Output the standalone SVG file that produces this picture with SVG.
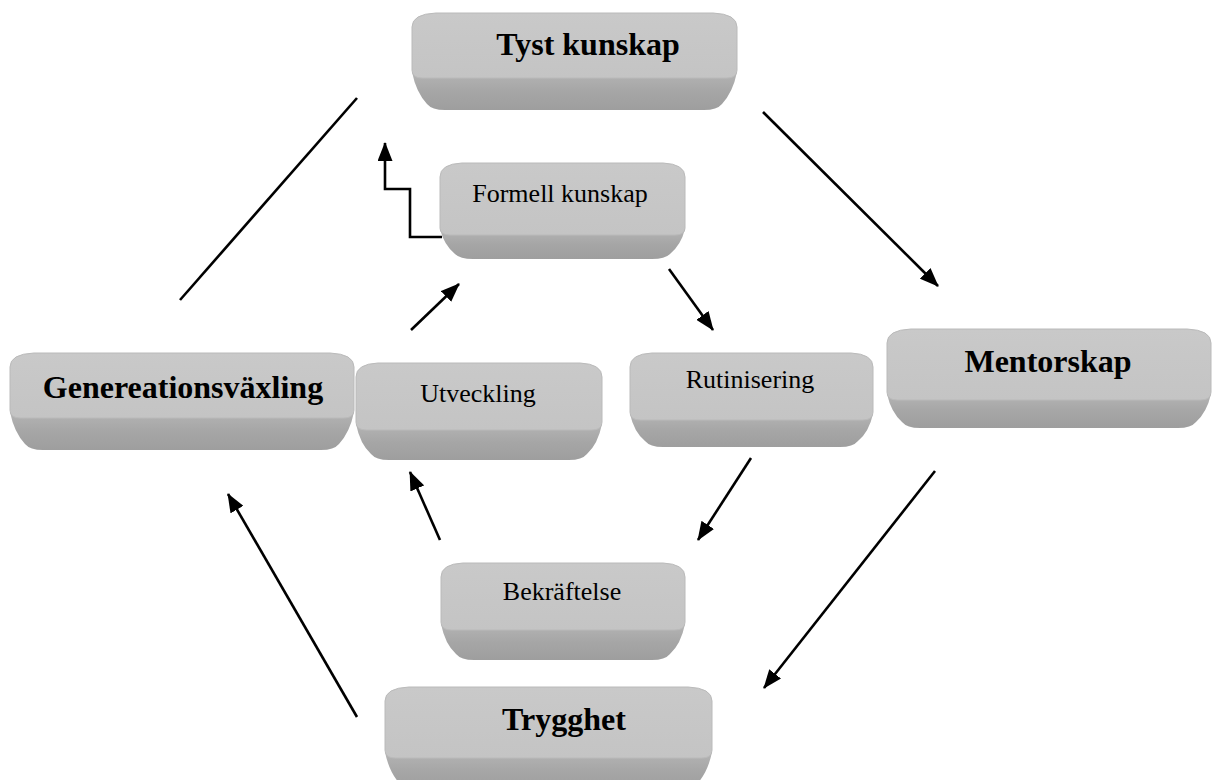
<svg xmlns="http://www.w3.org/2000/svg" width="1212" height="780" viewBox="0 0 1212 780">
<defs>
<linearGradient id="bev" x1="0" y1="0" x2="0" y2="1">
<stop offset="0" stop-color="#b4b4b4"/>
<stop offset="0.5" stop-color="#a6a6a6"/>
<stop offset="1" stop-color="#9e9e9e"/>
</linearGradient>
<linearGradient id="face" x1="0" y1="0" x2="0" y2="1">
<stop offset="0" stop-color="#c9c9c9"/>
<stop offset="1" stop-color="#c4c4c4"/>
</linearGradient>
<marker id="ah" markerUnits="userSpaceOnUse" markerWidth="19" markerHeight="15" refX="18" refY="7.5" orient="auto">
<path d="M0,0 L19,7.5 L0,15 Z" fill="#000"/>
</marker>
</defs>
<style>
.bevel{fill:url(#bev);}
.face{fill:url(#face);stroke:#bababa;stroke-width:1;}
.big{font-family:"Liberation Serif","Times New Roman",serif;font-weight:bold;font-size:32px;fill:#000;text-anchor:middle;}
.small{font-family:"Liberation Serif","Times New Roman",serif;font-size:26px;fill:#000;text-anchor:middle;}
.conn{stroke:#000;stroke-width:2.6;fill:none;}
.arr{marker-end:url(#ah);}
</style>
<rect width="1212" height="780" fill="#fff"/>

<g id="tyst-kunskap">
<path class="bevel" d="M412,72 L737,72 Q733,92 722,104 Q717,110 704,110 L445,110 Q432,110 427,104 Q416,92 412,72 Z"/>
<path class="face" d="M412,70 L412,27 Q412,14 436,13 L713,13 Q737,14 737,27 L737,70 Q737,78 727,78 L422,78 Q412,78 412,70 Z"/>
<text class="big" x="588" y="55">Tyst kunskap</text>
</g>

<g id="formell-kunskap">
<path class="bevel" d="M440,229 L685,229 Q681,245 670,254 Q665,259 652,259 L473,259 Q460,259 455,254 Q444,245 440,229 Z"/>
<path class="face" d="M440,228 L440,177 Q440,164 462,163 L663,163 Q685,164 685,177 L685,228 Q685,235 675,235 L450,235 Q440,235 440,228 Z"/>
<text class="small" x="560" y="202">Formell kunskap</text>
</g>

<g id="generationsvaxling">
<path class="bevel" d="M10,412 L354,412 Q350,432 339,444 Q334,450 321,450 L43,450 Q30,450 25,444 Q14,432 10,412 Z"/>
<path class="face" d="M10,410 L10,367 Q10,354 34,353 L330,353 Q354,354 354,367 L354,410 Q354,418 344,418 L20,418 Q10,418 10,410 Z"/>
<text class="big" x="183" y="398">Genereationsväxling</text>
</g>

<g id="mentorskap">
<path class="bevel" d="M887,394 L1211,394 Q1207,412 1196,422 Q1191,428 1178,428 L920,428 Q907,428 902,422 Q891,412 887,394 Z"/>
<path class="face" d="M887,392 L887,343 Q887,330 911,329 L1187,329 Q1211,330 1211,343 L1211,392 Q1211,400 1201,400 L897,400 Q887,400 887,392 Z"/>
<text class="big" x="1048" y="372">Mentorskap</text>
</g>

<g id="trygghet">
<path class="bevel" d="M385,752 L712,752 Q708,772 697,784 Q692,790 679,790 L418,790 Q405,790 400,784 Q389,772 385,752 Z"/>
<path class="face" d="M385,750 L385,701 Q385,688 409,687 L688,687 Q712,688 712,701 L712,750 Q712,758 702,758 L395,758 Q385,758 385,750 Z"/>
<text class="big" x="564" y="730">Trygghet</text>
</g>

<g id="rutinisering">
<path class="bevel" d="M630,414 L873,414 Q869,432 858,441 Q853,447 840,447 L663,447 Q650,447 645,441 Q634,432 630,414 Z"/>
<path class="face" d="M630,412 L630,367 Q630,354 652,353 L851,353 Q873,354 873,367 L873,412 Q873,420 863,420 L640,420 Q630,420 630,412 Z"/>
<text class="small" x="750" y="388">Rutinisering</text>
</g>

<g id="utveckling">
<path class="bevel" d="M356,424 L602,424 Q598,444 587,454 Q582,460 569,460 L389,460 Q376,460 371,454 Q360,444 356,424 Z"/>
<path class="face" d="M356,422 L356,377 Q356,364 378,363 L580,363 Q602,364 602,377 L602,422 Q602,430 592,430 L366,430 Q356,430 356,422 Z"/>
<text class="small" x="478" y="402">Utveckling</text>
</g>

<g id="bekraftelse">
<path class="bevel" d="M441,624 L685,624 Q681,644 670,654 Q665,660 652,660 L474,660 Q461,660 456,654 Q445,644 441,624 Z"/>
<path class="face" d="M441,622 L441,577 Q441,564 463,563 L663,563 Q685,564 685,577 L685,622 Q685,630 675,630 L451,630 Q441,630 441,622 Z"/>
<text class="small" x="562" y="600">Bekräftelse</text>
</g>

<g id="connectors">
<line class="conn" x1="180" y1="300" x2="357" y2="98"/>
<line class="conn arr" x1="763" y1="112" x2="938" y2="286"/>
<line class="conn arr" x1="935" y1="471" x2="764" y2="688"/>
<line class="conn arr" x1="357" y1="717" x2="228" y2="494"/>
<line class="conn arr" x1="751" y1="458" x2="698" y2="540"/>
<line class="conn arr" x1="440" y1="540" x2="410" y2="472"/>
<line class="conn arr" x1="411" y1="330" x2="459" y2="284"/>
<line class="conn arr" x1="669" y1="269" x2="713" y2="330"/>
<polyline class="conn arr" points="442,237 410,237 410,189 385,189 385,143"/>
</g>
</svg>
